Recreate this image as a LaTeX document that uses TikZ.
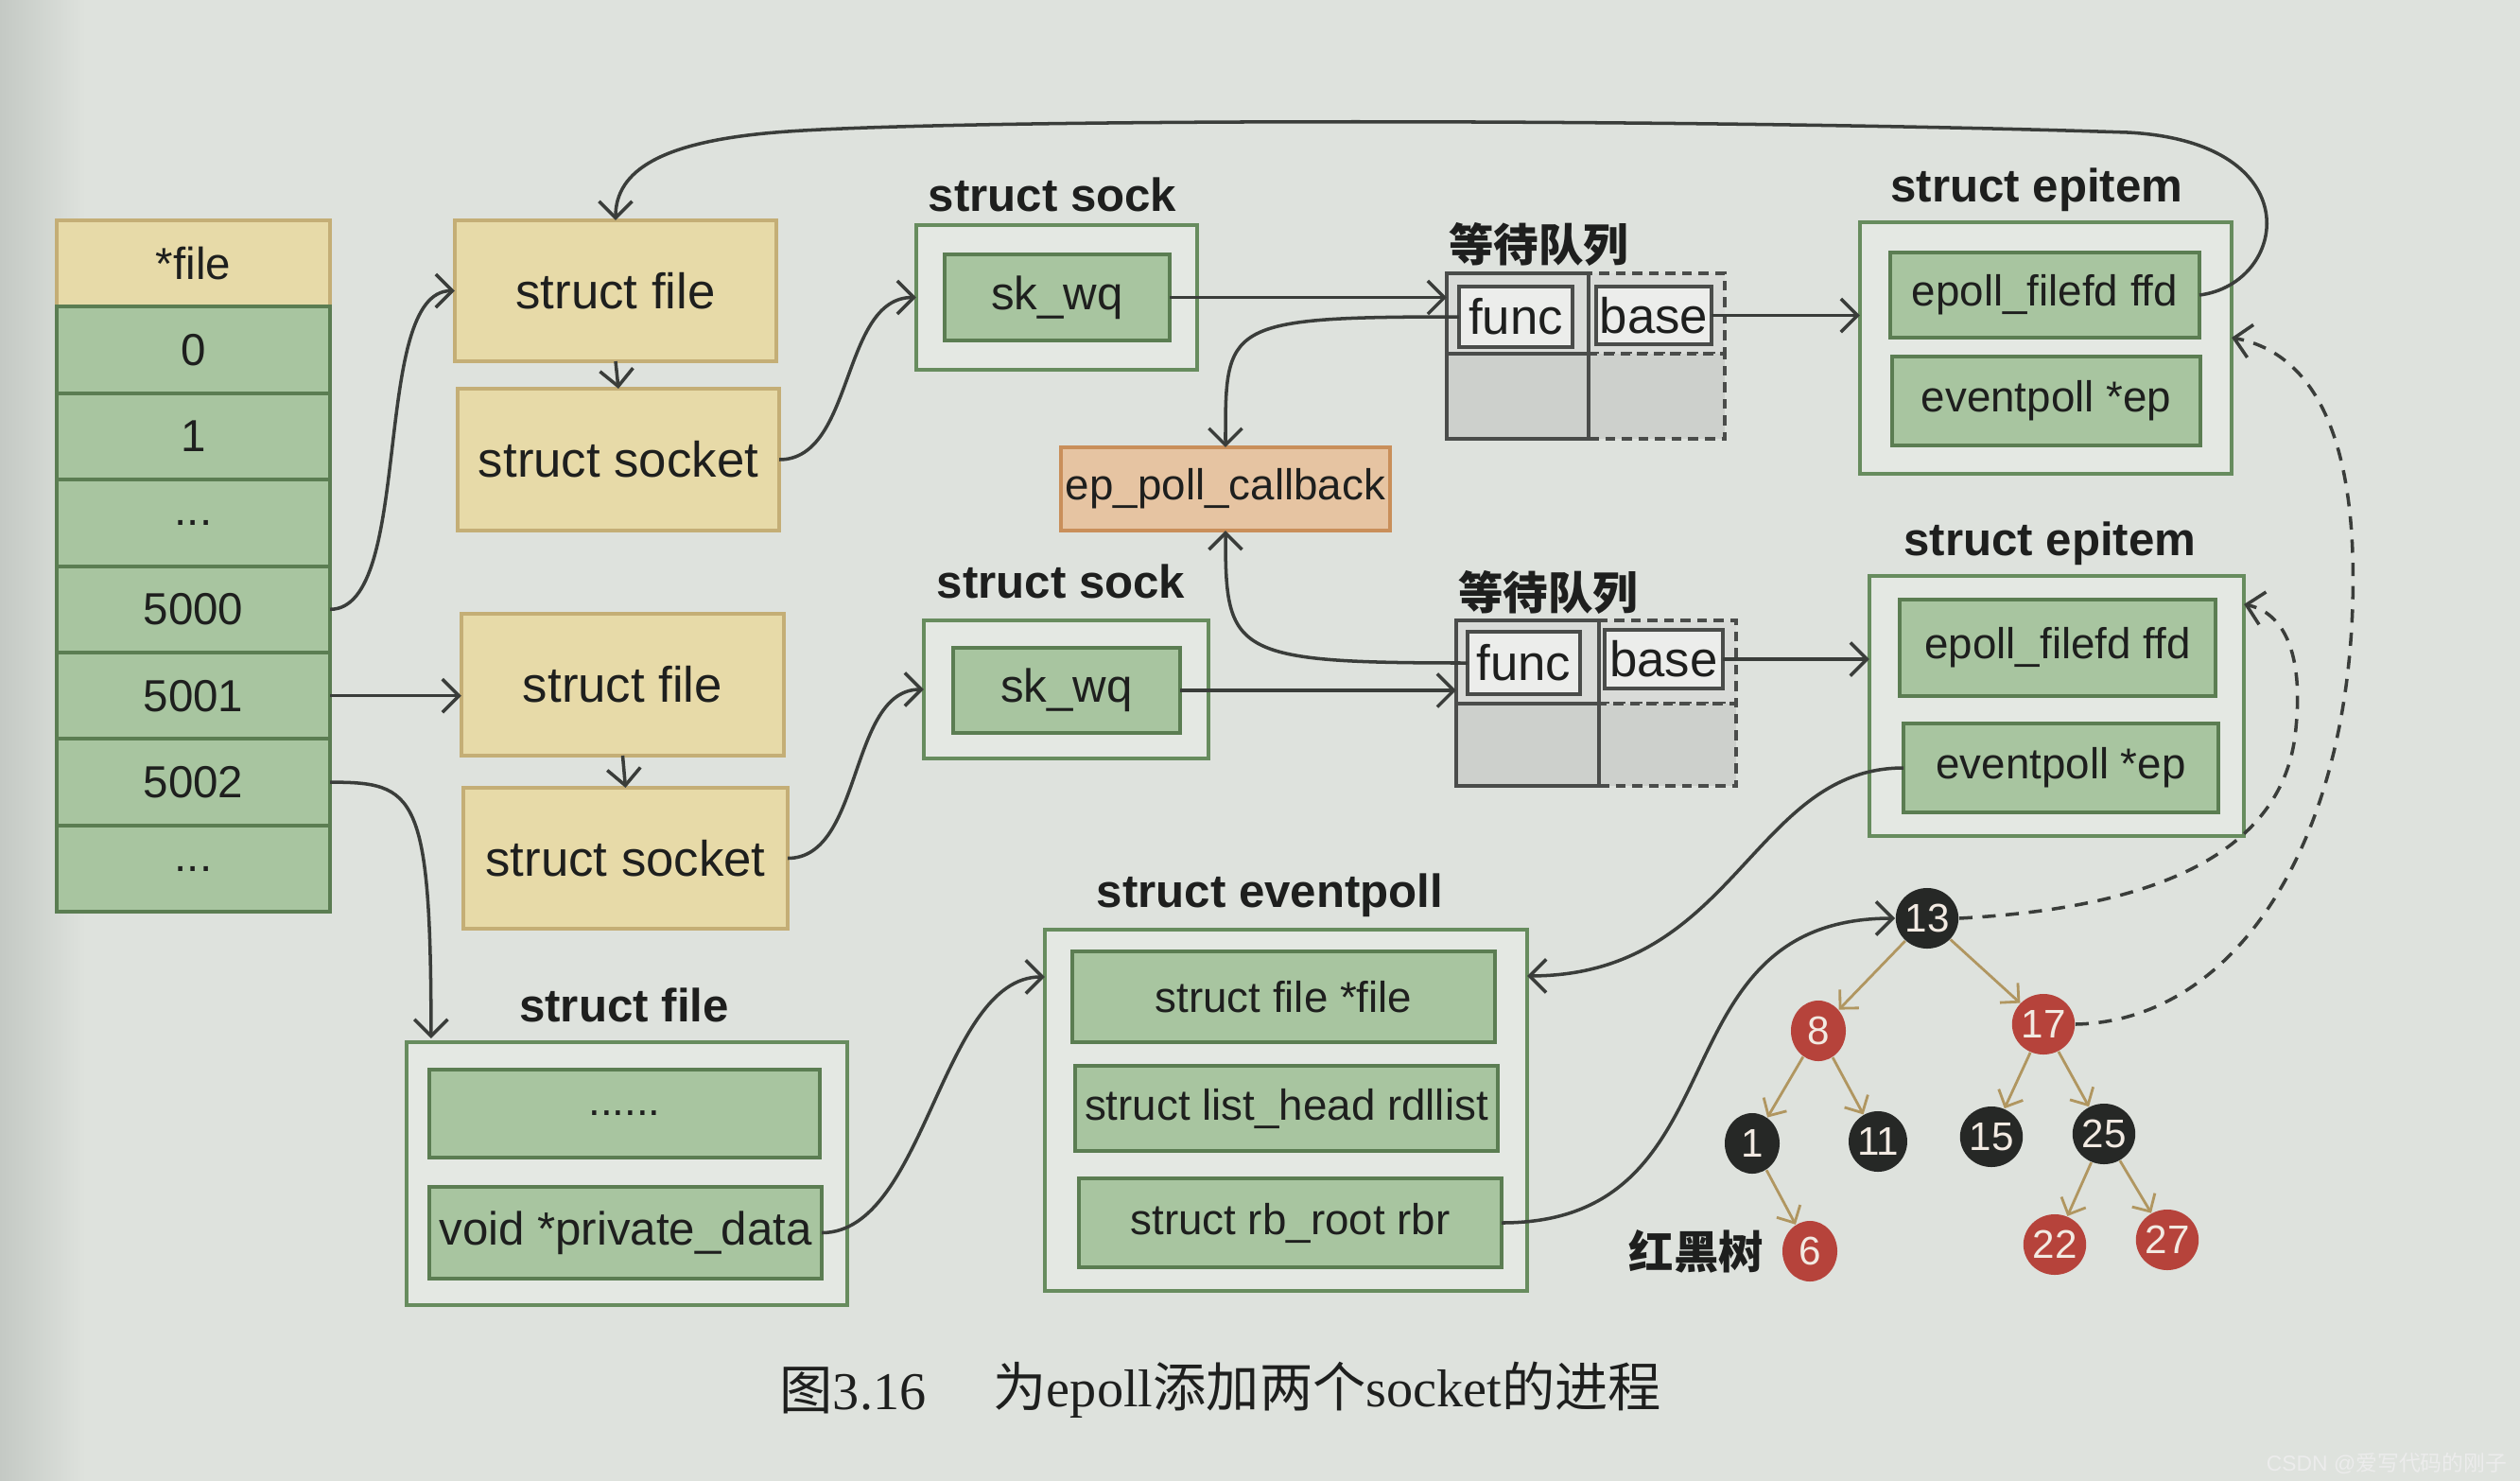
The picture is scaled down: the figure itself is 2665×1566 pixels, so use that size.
\documentclass[tikz,border=0pt]{standalone}
\usepackage{fontspec}
\setmainfont{Liberation Sans}
\newfontfamily\cjk{Noto Sans CJK SC}
\newfontfamily\serif{Liberation Serif}
\usetikzlibrary{arrows.meta,shapes.geometric}
\definecolor{bg}{HTML}{DEE2DD}
\definecolor{bgdark}{HTML}{C4C9C4}
\definecolor{gfill}{HTML}{A8C5A0}
\definecolor{gline}{HTML}{5B7D52}
\definecolor{ofill}{HTML}{E4E8E3}
\definecolor{oline}{HTML}{678C5E}
\definecolor{tfill}{HTML}{E7DAA8}
\definecolor{tline}{HTML}{C4AE76}
\definecolor{cbfill}{HTML}{E6C4A2}
\definecolor{cbline}{HTML}{C98F5A}
\definecolor{wqtop}{HTML}{D9DBD8}
\definecolor{wqbot}{HTML}{CDD0CC}
\definecolor{wqline}{HTML}{4A4C4A}
\definecolor{wbox}{HTML}{ECEDEB}
\definecolor{lc}{HTML}{3A3D3A}
\definecolor{rnode}{HTML}{B6433B}
\definecolor{bnode}{HTML}{262826}
\definecolor{ntext}{HTML}{F2EAE2}
\definecolor{tcol}{HTML}{B09660}
\definecolor{txt}{HTML}{1E1F1E}
\begin{document}
\begin{tikzpicture}[x=0.01cm,y=-0.01cm,
  box/.style={draw, inner sep=0pt, outer sep=0pt, line width=1.1pt, text=txt},
  gbox/.style={box, draw=gline, fill=gfill, font=\fontsize{13}{15}\selectfont},
  obox/.style={box, draw=oline, fill=ofill},
  tbox/.style={box, draw=tline, fill=tfill, font=\fontsize{15}{18}\selectfont},
  cell/.style={box, draw=gline, fill=gfill, minimum width=2.89cm, minimum height=0.914cm, font=\fontsize{13.5}{15}\selectfont},
  lab/.style={font=\bfseries\fontsize{14}{16}\selectfont, inner sep=0pt, text=txt},
  cjklab/.style={font=\cjk\bfseries\fontsize{13.5}{16}\selectfont, inner sep=0pt, text=txt},
  wqs/.style={box, draw=wqline, line width=1.1pt},
  wqd/.style={box, draw=wqline, line width=1.1pt, dashed, dash pattern=on 3pt off 2pt},
  fb/.style={box, draw=wqline, fill=wbox, line width=1.3pt, font=\fontsize{15}{18}\selectfont},
  conn/.style={draw=lc, line width=1pt, -{Straight Barb[length=5pt,width=10pt]}},
  dconn/.style={conn, dash pattern=on 4pt off 3pt},
  rn/.style={ellipse, fill=rnode, minimum width=0.58cm, minimum height=0.64cm, inner sep=0pt, text=ntext, font=\fontsize{12}{14}\selectfont},
  bn/.style={ellipse, fill=bnode, minimum width=0.58cm, minimum height=0.64cm, inner sep=0pt, text=ntext, font=\fontsize{12}{14}\selectfont},
  tedge/.style={draw=tcol, line width=0.8pt, -{Straight Barb[length=4pt,width=8pt]}}
]
\useasboundingbox (0,0) rectangle (2665,1566);
\fill[bg] (0,0) rectangle (2665,1566);
\shade[left color=bgdark, right color=bg] (0,0) rectangle (90,1566);

% file descriptor array
\node[cell, fill=tfill, draw=tline] (hdr) at (204.5,278.7) {*file};
\node[cell] (r0) at (204.5,370.1) {0};
\node[cell] (r1) at (204.5,461.5) {1};
\node[cell] (rd1) at (204.5,552.9) {...};
\node[cell] (r5000) at (204.5,644.3) {5000};
\node[cell] (r5001) at (204.5,735.7) {5001};
\node[cell] (r5002) at (204.5,827.1) {5002};
\node[cell] (rd2) at (204.5,918.5) {...};

% struct file / socket
\node[tbox, minimum width=3.40cm, minimum height=1.49cm] (f1) at (651,307.5) {struct file};
\node[tbox, minimum width=3.40cm, minimum height=1.50cm] (s1) at (654,486) {struct socket};
\node[tbox, minimum width=3.41cm, minimum height=1.50cm] (f2) at (658.5,724) {struct file};
\node[tbox, minimum width=3.43cm, minimum height=1.49cm] (s2) at (661.5,907.5) {struct socket};

% struct sock
\node[lab] (sockl1) at (1113,206) {struct sock};
\node[obox, minimum width=2.97cm, minimum height=1.53cm] (sock1) at (1117.5,314.5) {};
\node[gbox, minimum width=2.38cm, minimum height=0.91cm, font=\fontsize{14}{16}\selectfont] (sk1) at (1118,314.5) {sk\_wq};
\node[lab] (sockl2) at (1122,615) {struct sock};
\node[obox, minimum width=3.01cm, minimum height=1.46cm] (sock2) at (1127.5,729) {};
\node[gbox, minimum width=2.40cm, minimum height=0.90cm, font=\fontsize{14}{16}\selectfont] (sk2) at (1128,730) {sk\_wq};

% wait queues
\node[cjklab] (wql1) at (1627,258) {等待队列};
\node[wqd, fill=wqtop, minimum width=1.44cm, minimum height=0.85cm] (wq1tr) at (1752,331.5) {};
\node[wqd, fill=wqbot, minimum width=1.44cm, minimum height=0.90cm] (wq1br) at (1752,419) {};
\node[wqs, fill=wqtop, minimum width=1.50cm, minimum height=0.85cm] (wq1tl) at (1605,331.5) {};
\node[wqs, fill=wqbot, minimum width=1.50cm, minimum height=0.90cm] (wq1bl) at (1605,419) {};
\node[fb, minimum width=1.20cm, minimum height=0.64cm] (func1) at (1603,335) {func};
\node[fb, minimum width=1.22cm, minimum height=0.61cm] (base1) at (1749,333.5) {base};

\node[cjklab] (wql2) at (1637,626) {等待队列};
\node[wqd, fill=wqtop, minimum width=1.45cm, minimum height=0.88cm] (wq2tr) at (1763.5,700) {};
\node[wqd, fill=wqbot, minimum width=1.45cm, minimum height=0.87cm] (wq2br) at (1763.5,787.5) {};
\node[wqs, fill=wqtop, minimum width=1.51cm, minimum height=0.88cm] (wq2tl) at (1615.5,700) {};
\node[wqs, fill=wqbot, minimum width=1.51cm, minimum height=0.87cm] (wq2bl) at (1615.5,787.5) {};
\node[fb, minimum width=1.19cm, minimum height=0.66cm] (func2) at (1611.5,701) {func};
\node[fb, minimum width=1.25cm, minimum height=0.62cm] (base2) at (1759.5,697) {base};

% callback
\node[box, draw=cbline, fill=cbfill, minimum width=3.48cm, minimum height=0.88cm, font=\fontsize{13}{15}\selectfont] (cb) at (1296,517) {ep\_poll\_callback};

% epitems
\node[lab] (epl1) at (2154,201) {struct epitem};
\node[obox, minimum width=3.93cm, minimum height=2.66cm] (epi1) at (2163.5,368) {};
\node[gbox, minimum width=3.27cm, minimum height=0.90cm] (ffd1) at (2162.5,312) {epoll\_filefd ffd};
\node[gbox, minimum width=3.26cm, minimum height=0.94cm] (ep1) at (2164,424) {eventpoll *ep};
\node[lab] (epl2) at (2168,575) {struct epitem};
\node[obox, minimum width=3.96cm, minimum height=2.75cm] (epi2) at (2175,746.5) {};
\node[gbox, minimum width=3.34cm, minimum height=1.02cm] (ffd2) at (2176,685) {epoll\_filefd ffd};
\node[gbox, minimum width=3.33cm, minimum height=0.94cm] (ep2) at (2179.5,812) {eventpoll *ep};

% struct file (epoll)
\node[lab] (fl3) at (660,1063) {struct file};
\node[obox, minimum width=4.66cm, minimum height=2.78cm] (f3) at (663,1241) {};
\node[gbox, minimum width=4.13cm, minimum height=0.93cm] (dots) at (660.5,1177.5) {......};
\node[gbox, minimum width=4.15cm, minimum height=0.97cm, font=\fontsize{14}{16}\selectfont] (pd) at (661.5,1303.5) {void *private\_data};

% struct eventpoll
\node[lab] (evl) at (1343,947) {struct eventpoll};
\node[obox, minimum width=5.10cm, minimum height=3.82cm] (evp) at (1360,1174) {};
\node[gbox, minimum width=4.47cm, minimum height=0.96cm] (sf) at (1357.5,1054) {struct file *file};
\node[gbox, minimum width=4.47cm, minimum height=0.90cm] (lh) at (1360.5,1172) {struct list\_head rdllist};
\node[gbox, minimum width=4.47cm, minimum height=0.94cm] (rb) at (1364.5,1293) {struct rb\_root rbr};

% red-black tree
\node[bn] (t13) at (2038,971) {13};
\node[rn] (t8) at (1923,1090) {8};
\node[rn] (t17) at (2161,1083) {17};
\node[bn] (t1) at (1853,1209) {1};
\node[bn] (t11) at (1986,1207) {11};
\node[bn] (t15) at (2106,1202) {15};
\node[bn] (t25) at (2225,1199) {25};
\node[rn] (t6) at (1914,1323) {6};
\node[rn] (t22) at (2173,1316) {22};
\node[rn] (t27) at (2292,1311) {27};
\node[font=\cjk\bfseries\fontsize{13.5}{16}\selectfont, text=txt, inner sep=0pt] (rbl) at (1794,1323) {红黑树};
\foreach \a/\b in {t13/t8,t13/t17,t8/t1,t8/t11,t17/t15,t17/t25,t1/t6,t25/t22,t25/t27}
  \draw[tedge] (\a) -- (\b);

% connectors
\draw[conn] (r5000.east) .. controls +(90,0) and +(-90,0) .. (f1.west);
\draw[conn] (r5001.east) -- (r5001.east -| f2.west);
\draw[conn] (r5002.east) .. controls +(90,0) and +(0,-260) .. ([xshift=0.26cm,yshift=0.04cm]f3.north west);
\draw[conn] (f1.south) -- (s1.north);
\draw[conn] (f2.south) -- (s2.north);
\draw[conn] (s1.east) .. controls +(80,0) and +(-80,0) .. (sock1.west);
\draw[conn] (s2.east) .. controls +(80,0) and +(-80,0) .. (sock2.west);
\draw[conn] (sk1.east) -- (sk1.east -| wq1tl.west);
\draw[conn] (sk2.east) -- (sk2.east -| wq2tl.west);
\draw[conn] (func1.west) .. controls +(-250,0) and +(0,-130) .. (cb.north);
\draw[conn] (func2.west) .. controls +(-250,0) and +(0,130) .. (cb.south);
\draw[conn] (base1.east) -- (base1.east -| epi1.west);
\draw[conn] (base2.east) -- (base2.east -| epi2.west);
\draw[conn] (ffd1.east) .. controls (2420,300) and (2445,150) .. (2250,140)
  .. controls (1800,125) and (1000,125) .. (820,140)
  .. controls (700,150) and (651,180) .. (f1.north);
\draw[conn] (ep2.west) .. controls +(-160,0) and +(220,0) .. ([yshift=-0.49cm]evp.north east);
\draw[conn] (pd.east) .. controls +(110,0) and +(-110,0) .. ([yshift=-0.50cm]evp.north west);
\draw[conn] (rb.east) .. controls +(260,0) and +(-260,0) .. (t13.west);
\draw[dconn] (t13.east) .. controls (2240,962) and (2415,920) .. (2428,770)
  .. controls (2436,690) and (2415,648) .. ([yshift=-0.30cm]epi2.north east);
\draw[dconn] (t17.east) .. controls (2360,1080) and (2480,900) .. (2488,640)
  .. controls (2494,450) and (2440,372) .. ([yshift=-1.22cm]epi1.north east);

% caption
\node[anchor=west, inner sep=0pt, text=txt, font=\fontsize{16}{18}\selectfont] (cap1) at (824,1470) {{\cjk 图}{\serif 3.16}};
\node[anchor=west, inner sep=0pt, text=txt, font=\fontsize{16}{18}\selectfont] (cap2) at (1050,1470) {{\cjk 为}{\serif epoll}{\cjk 添加两个}{\serif socket}{\cjk 的进程}};
\node[anchor=east, inner sep=0pt, text=white!85!gray, font=\fontsize{6.5}{8}\selectfont] (wm) at (2652,1547) {CSDN @{\cjk 爱写代码的刚子}};
\end{tikzpicture}
\end{document}
